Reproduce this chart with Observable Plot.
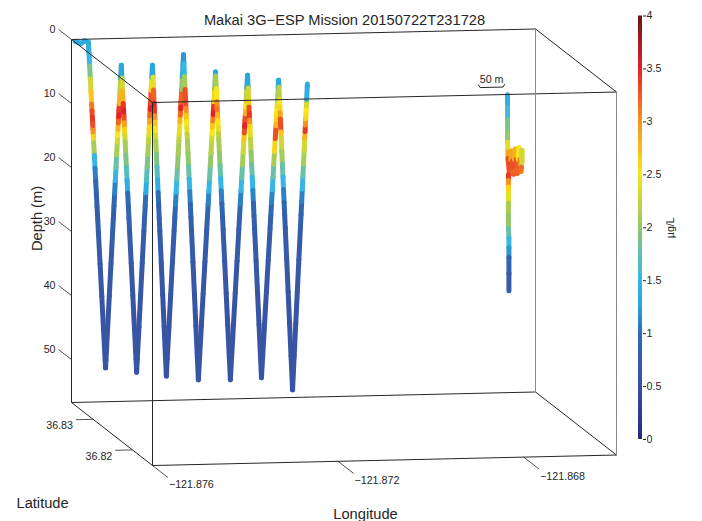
<!DOCTYPE html>
<html><head><meta charset="utf-8">
<script src="https://cdn.jsdelivr.net/npm/d3@7"></script>
<script src="https://cdn.jsdelivr.net/npm/@observablehq/plot@0.6"></script>
<style>
body{margin:0;background:#fff;}
#wrap{position:relative;width:702px;height:521px;}
#wrap svg{position:absolute;left:0;top:0;}
</style></head><body><div id="wrap"></div>
<script>
const title = "Makai 3G\u2212ESP Mission 20150722T231728";
const lonDomain = [-121.876, -121.866];
const latDomain = [36.8149, 36.8355];
const depthDomain = [0, 56.7];
const depthTicks = [0, 10, 20, 30, 40, 50];
const latTicks = [36.82, 36.83];
const lonTicks = [-121.876, -121.872, -121.868];
const chlTicks = [0, 0.5, 1, 1.5, 2, 2.5, 3, 3.5, 4];

// colour map (µg/L)
const chlStops = [0, 0.5, 1, 1.25, 1.5, 1.75, 2, 2.25, 2.5, 2.75, 3, 3.25, 3.5, 3.75, 4];
const chlColors = ["#262a78","#3a4fa1","#2e6cb5","#2aa3dc","#35b6e4","#5ebfb6","#94c76a","#c6d53a","#f7e619","#f8bd1c","#f5921f","#ee5a24","#e42127","#a81b1f","#6b1415"];

// surface start
const surfLon = [-121.87595, -121.87583, -121.87575];
const surfLat = [36.8351, 36.8351, 36.8351];
const surfDepth = [0.1, 0.45, 0.05];
const surfChl = [1.35, 1.4, 1.35];

// yo-yo turning points
const vertexLon = [-121.87567, -121.87530, -121.87496, -121.87463, -121.87429, -121.87399, -121.87362, -121.87330, -121.87293, -121.87261, -121.87224, -121.87194, -121.87157, -121.87127, -121.87095];
const vertexLat = [36.8351, 36.8351, 36.8351, 36.8351, 36.8351, 36.8351, 36.8351, 36.8351, 36.8351, 36.8351, 36.8351, 36.8351, 36.8351, 36.8351, 36.8351];
const vertexDepth = [0.3, 51.2, 4.0, 52.0, 4.1, 52.7, 2.6, 53.4, 5.4, 53.5, 6.0, 53.3, 6.9, 55.3, 7.6];
const vertexChl = [1.35, 0.6, 1.3, 0.6, 1.3, 0.6, 1.2, 0.6, 1.3, 0.6, 1.3, 0.6, 1.3, 0.6, 1.35];

// chlorophyll along each leg
const upperDepths = [0, 2, 4, 6, 8, 10, 11, 12, 13, 14, 15, 16, 18, 20, 22, 24, 26];
const legChl = [
  [1.35,1.5,1.9,2.3,2.7,3.1,3.3,3.4,3.3,3.0,2.6,2.1,1.5,1.1,0.9,0.8,0.75],
  [1.3,1.4,1.7,2.2,2.8,3.4,3.5,3.2,2.8,2.5,2.3,2.1,1.8,1.5,1.1,0.9,0.8],
  [1.3,1.4,1.8,2.3,2.8,3.4,3.5,3.3,2.9,2.6,2.3,2.1,1.9,1.7,1.4,1.0,0.85],
  [1.3,1.5,1.9,2.6,3.3,3.5,3.2,2.9,2.6,2.4,2.2,2.1,1.9,1.7,1.4,1.0,0.85],
  [1.3,1.5,1.9,2.4,3.2,3.5,3.4,3.0,2.7,2.5,2.3,2.1,1.9,1.7,1.4,1.0,0.85],
  [1.2,1.3,1.4,2.0,3.2,3.5,3.2,2.8,2.6,2.4,2.2,2.1,2.0,1.8,1.5,1.1,0.9],
  [1.2,1.3,1.5,2.1,3.3,3.3,3.0,2.7,2.5,2.4,2.2,2.1,2.0,1.8,1.5,1.1,0.9],
  [1.3,1.3,1.5,2.0,2.6,3.4,3.5,3.1,2.7,2.5,2.3,2.2,2.0,1.8,1.5,1.1,0.9],
  [1.3,1.3,1.6,2.1,2.5,3.0,3.1,2.8,2.5,2.4,2.2,2.1,2.0,1.8,1.5,1.1,0.9],
  [1.3,1.3,1.4,1.8,2.2,2.5,2.8,3.3,3.5,3.3,2.7,2.3,2.1,1.8,1.5,1.1,0.9],
  [1.3,1.3,1.5,1.9,2.3,2.7,3.3,3.4,3.0,2.6,2.4,2.2,2.0,1.8,1.5,1.1,0.9],
  [1.3,1.3,1.4,1.7,2.1,2.4,2.5,2.6,2.8,3.3,3.3,2.6,2.1,1.8,1.5,1.1,0.9],
  [1.3,1.3,1.4,1.8,2.2,2.5,2.6,2.9,3.3,3.3,2.7,2.3,2.1,1.8,1.5,1.1,0.9],
  [1.3,1.3,1.3,1.3,1.4,2.3,2.5,2.6,3.0,3.4,2.8,2.3,2.1,1.8,1.5,1.1,0.9]
];
const deepDepths = [28, 30, 35, 40, 45, 50];
const deepChl = [0.8, 0.7, 0.65, 0.6, 0.6, 0.6];

// ESP station
const espLat = 36.8150;
const espLon = [-121.86834,-121.86834,-121.86834,-121.86834,-121.86834,-121.86833,-121.86833,
  -121.86830,-121.86827,-121.86825,-121.86823,-121.86821,-121.86819,-121.86817,-121.86815,-121.86813,-121.86811,-121.86809,-121.86807,-121.86805,-121.86803,-121.86803,-121.86804,-121.86832,
  -121.86832,-121.86832,-121.86832,-121.86832,-121.86832,-121.86832,-121.86831,-121.86831,-121.86831,-121.86831,-121.86831];
const espDepth = [0.1, 2, 4, 6, 7.5, 9.0, 10.0,
  12.4, 10.2, 8.9, 10.4, 12.5, 10.2, 8.6, 10.2, 12.4, 10.2, 8.4, 10.2, 12.1, 10.4, 8.8, 11.5, 12.6,
  13.5, 14.5, 15.5, 17, 19, 21, 22.5, 24, 25.5, 28, 30.7];
const espChl = [1.4, 1.6, 1.9, 2.0, 2.4, 2.9, 3.3,
  3.4, 3.3, 2.9, 3.3, 3.4, 3.3, 2.8, 3.3, 3.4, 3.2, 2.5, 3.1, 3.3, 3.1, 2.3, 3.2, 3.4,
  3.0, 2.6, 2.4, 2.1, 2.0, 1.8, 1.5, 1.2, 0.85, 0.7, 0.6];

// scale bar
const barLat = 36.8180, barLon = -121.86871, barMeters = 50;

// ---------- projection (oblique view) ----------
const [lonMin, lonMax] = lonDomain, [latMin, latMax] = latDomain;
const lonSpan = lonMax - lonMin, latSpan = latMax - latMin;
const view = {southDx: 81 / 464, southDy: 63 / 6.4, eastDy: -10.5 / 6.4};
function proj(lon, lat, depth) {
  const u = (lon - lonMin) / lonSpan, v = (latMax - lat) / latSpan;
  return {x: lon + v * view.southDx * lonSpan, y: depth + v * view.southDy + u * view.eastDy};
}
function seg(a, b, extra = {}) {
  const p = proj(a[0], a[1], a[2]), q = proj(b[0], b[1], b[2]);
  return {x1: p.x, y1: p.y, x2: q.x, y2: q.y, ...extra};
}

// trajectory points
const pts = [];
surfLon.forEach((lon, i) => pts.push({lon, lat: surfLat[i], depth: surfDepth[i], chl: surfChl[i]}));
const V = vertexLon.map((lon, i) => ({lon, lat: vertexLat[i], depth: vertexDepth[i], chl: vertexChl[i]}));
pts.push(V[0]);
for (let i = 0; i < V.length - 1; i++) {
  const a = V[i], b = V[i + 1];
  const lo = Math.min(a.depth, b.depth), hi = Math.max(a.depth, b.depth);
  let grid = upperDepths.map((d, j) => ({d, c: legChl[i][j]}))
    .concat(deepDepths.map((d, j) => ({d, c: deepChl[j]})))
    .filter(g => g.d > lo && g.d < hi);
  if (a.depth > b.depth) grid.reverse();
  for (const g of grid) {
    const t = (g.d - a.depth) / (b.depth - a.depth);
    pts.push({lon: a.lon + t * (b.lon - a.lon), lat: a.lat + t * (b.lat - a.lat), depth: g.d, chl: g.c});
  }
  pts.push(b);
}
const espPts = espLon.map((lon, i) => ({lon, lat: espLat, depth: espDepth[i], chl: espChl[i]}));
function toSegs(list) {
  const out = [];
  for (let i = 0; i < list.length - 1; i++) {
    const a = list[i], b = list[i + 1];
    out.push(seg([a.lon, a.lat, a.depth], [b.lon, b.lat, b.depth], {chl: a.depth <= b.depth ? a.chl : b.chl}));
  }
  return out;
}
const trackSegs = toSegs(pts).concat(toSegs(espPts));

// box edges
const dMax = depthDomain[1];
const C = (lo, la, d) => [lo, la, d];
const darkEdges = [
  [C(lonMin,latMax,0), C(lonMax,latMax,0)], [C(lonMin,latMin,0), C(lonMax,latMin,0)],
  [C(lonMin,latMax,0), C(lonMin,latMin,0)], [C(lonMax,latMax,0), C(lonMax,latMin,0)],
  [C(lonMin,latMax,dMax), C(lonMax,latMax,dMax)], [C(lonMin,latMin,dMax), C(lonMax,latMin,dMax)],
  [C(lonMin,latMax,dMax), C(lonMin,latMin,dMax)], [C(lonMax,latMax,dMax), C(lonMax,latMin,dMax)],
  [C(lonMin,latMax,0), C(lonMin,latMax,dMax)], [C(lonMin,latMin,0), C(lonMin,latMin,dMax)]
].map(([a, b]) => seg(a, b));
const grayEdges = [
  [C(lonMax,latMax,0), C(lonMax,latMax,dMax)], [C(lonMax,latMin,0), C(lonMax,latMin,dMax)]
].map(([a, b]) => seg(a, b));

// ticks
const depthTickSegs = depthTicks.map(d => seg([lonMin, latMax, d], [lonMin, latMax + 0.16 * latSpan, d], {label: String(d)}));
const latTickSegs = latTicks.map(la => seg([lonMin, la, dMax], [lonMin - 0.037 * lonSpan, la, dMax], {label: la.toFixed(2)}));
const lonTickSegs = lonTicks.map(lo => seg([lo, latMin, dMax], [lo, latMin - 0.19 * latSpan, dMax], {label: "\u2212" + Math.abs(lo).toFixed(3)}));

// scale bar
const barSpan = barMeters / (111320 * Math.cos(barLat * Math.PI / 180));
const barPts = [[barLon, -0.05], [barLon + 0.06 * barSpan, 0.35], [barLon + 0.94 * barSpan, 0.35], [barLon + barSpan, -0.05]]
  .map(([lo, d]) => proj(lo, barLat, d));
const barMid = proj(barLon + barSpan / 2, barLat, 0.35);

const font = "'Liberation Sans', Arial, Helvetica, sans-serif";
const ink = "#262626";
const colorScale = {type: "linear", domain: chlStops, range: chlColors, interpolate: "rgb"};

const main = Plot.plot({
  width: 702, height: 521,
  marginTop: 0, marginRight: 0, marginBottom: 0, marginLeft: 0,
  style: {fontFamily: font, background: "transparent", overflow: "visible"},
  x: {domain: lonDomain, range: [71, 535], axis: null},
  y: {domain: depthDomain, range: [39, 402], axis: null},
  color: colorScale,
  marks: [
    Plot.link(trackSegs, {x1: "x1", y1: "y1", x2: "x2", y2: "y2", stroke: "chl", strokeWidth: 5, strokeLinecap: "round"}),
    Plot.link(darkEdges, {x1: "x1", y1: "y1", x2: "x2", y2: "y2", stroke: ink, strokeWidth: 1}),
    Plot.link(grayEdges, {x1: "x1", y1: "y1", x2: "x2", y2: "y2", stroke: "#8a8a8a", strokeWidth: 1}),
    Plot.link(depthTickSegs, {x1: "x1", y1: "y1", x2: "x2", y2: "y2", stroke: ink, strokeWidth: 0.8}),
    Plot.link(latTickSegs, {x1: "x1", y1: "y1", x2: "x2", y2: "y2", stroke: ink, strokeWidth: 0.8}),
    Plot.link(lonTickSegs, {x1: "x1", y1: "y1", x2: "x2", y2: "y2", stroke: ink, strokeWidth: 0.8}),
    Plot.text(depthTickSegs, {x: "x2", y: "y2", text: "label", textAnchor: "end", dx: -3, fontSize: 10.7, fill: ink}),
    Plot.text(latTickSegs, {x: "x2", y: "y2", text: "label", textAnchor: "end", dx: -3, dy: 6, fontSize: 10.7, fill: ink}),
    Plot.text(lonTickSegs, {x: "x2", y: "y2", text: "label", textAnchor: "start", dx: 1, dy: 7, fontSize: 10.7, fill: ink}),
    Plot.line(barPts, {x: "x", y: "y", stroke: ink, strokeWidth: 1}),
    Plot.text([barMid], {x: "x", y: "y", text: () => "50 m", dy: -8, fontSize: 10.7, fill: ink}),
    Plot.text([title], {text: d => d, frameAnchor: "top-left", textAnchor: "middle", dx: 344, dy: 14.5, fontSize: 14.67, fill: ink}),
    Plot.text(["Depth (m)"], {text: d => d, frameAnchor: "top-left", textAnchor: "middle", dx: 31, dy: 218, rotate: -90, fontSize: 14.67, fill: ink}),
    Plot.text(["Latitude"], {text: d => d, frameAnchor: "top-left", textAnchor: "start", dx: 16, dy: 497, fontSize: 14.67, fill: ink}),
    Plot.text(["Longitude"], {text: d => d, frameAnchor: "top-left", textAnchor: "middle", dx: 365, dy: 508, fontSize: 14.67, fill: ink})
  ]
});

const ramp = d3.range(0, 4, 0.02);
const bar = Plot.plot({
  width: 702, height: 521,
  marginLeft: 638, marginRight: 60, marginTop: 15.5, marginBottom: 82,
  style: {fontFamily: font, background: "transparent", overflow: "visible"},
  x: {domain: [0, 1], axis: null},
  y: {domain: [0, 4]},
  color: colorScale,
  marks: [
    Plot.rect(ramp, {x1: 0, x2: 1, y1: d => d, y2: d => Math.min(4, d + 0.03), fill: d => d + 0.01}),
    Plot.axisY(chlTicks, {anchor: "right", tickSize: 3, tickPadding: 1, fontSize: 10.7, tickFormat: d => String(d), label: null, color: ink}),
    Plot.text(["\u00b5g/L"], {text: d => d, frameAnchor: "right", textAnchor: "middle", dx: 28, rotate: -90, fontSize: 10.7, fill: ink})
  ]
});

const wrap = document.getElementById("wrap");
wrap.appendChild(main);
wrap.appendChild(bar);
</script></body></html>
